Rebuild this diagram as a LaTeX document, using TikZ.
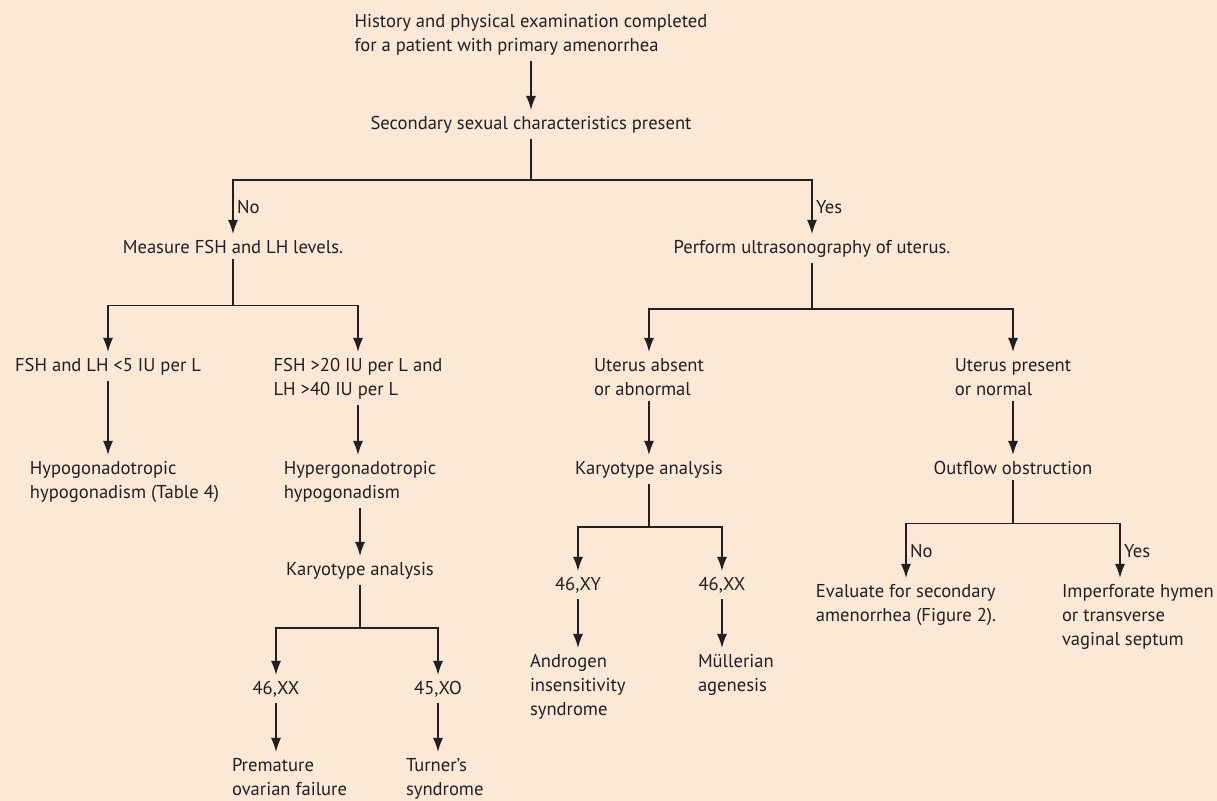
\documentclass[tikz,border=0pt]{standalone}
\usepackage{fontspec}
\setmainfont{PT Sans}
\usetikzlibrary{arrows.meta}
\definecolor{paper}{RGB}{251,232,214}
\definecolor{ink}{RGB}{35,31,32}
\tikzset{
	box/.style={anchor=north, inner sep=3pt, outer sep=0pt, align=left, text=ink, font=\fontsize{9.3}{12}\selectfont},
	leaf/.style={box, anchor=north west},
	tag/.style={box, anchor=west, inner sep=2pt},
	link/.style={draw=ink, line width=0.75pt},
	flow/.style={link, -{Latex[length=7pt,width=5pt]}}
}
\begin{document}
\begin{tikzpicture}[x=0.5pt, y=-0.5pt]

	\fill[paper] (0,0) rectangle (1217,801);
	\useasboundingbox (0,0) rectangle (1217,801);

	\node[box] (hist) at (531,8) {History and physical examination completed\\for a patient with primary amenorrhea};
	\node[box] (sec) at (531,110) {Secondary sexual characteristics present};

	\node[box] (meas) at (233,234) {Measure FSH and LH levels.};
	\node[box] (perf) at (812,234) {Perform ultrasonography of uterus.};

	\node[box] (fshlo) at (108,352) {FSH and LH <5 IU per L};
	\node[box] (fshhi) at (358,352) {FSH >20 IU per L and\\LH >40 IU per L};
	\node[box] (uabs) at (649,352) {Uterus absent\\or abnormal};
	\node[box] (upres) at (1013,352) {Uterus present\\or normal};

	\node[leaf] (hypo) at (24,455) {Hypogonadotropic\\hypogonadism (Table 4)};
	\node[box] (hyper) at (360,455) {Hypergonadotropic\\hypogonadism};
	\node[box] (karb) at (649,455) {Karyotype analysis};
	\node[box] (outf) at (1013,455) {Outflow obstruction};

	\node[box] (kara) at (360,556) {Karyotype analysis};
	\node[box] (xy) at (578,571) {46,XY};
	\node[box] (xxb) at (722,571) {46,XX};
	\node[box] (eval) at (906,578) {Evaluate for secondary\\amenorrhea (Figure 2).};
	\node[leaf] (imp) at (1056,578) {Imperforate hymen\\or transverse\\vaginal septum};

	\node[leaf] (andr) at (524,648) {Androgen\\insensitivity\\syndrome};
	\node[leaf] (mull) at (692,648) {Müllerian\\agenesis};
	\node[box] (xxa) at (276,675) {46,XX};
	\node[box] (xo) at (438,675) {45,XO};
	\node[leaf] (prem) at (226,752) {Premature\\ovarian failure};
	\node[leaf] (turn) at (400,752) {Turner’s\\syndrome};

	\draw[flow] (hist.south) -- (sec.north);
	\draw[link] (sec.south) -- ++(0,41) coordinate (secbar);
	\draw[flow] (secbar) -| node[tag, pos=0.75] {No} (meas.north);
	\draw[flow] (secbar) -| node[tag, pos=0.75] {Yes} (perf.north);

	\draw[link] (meas.south) -- ++(0,46) coordinate (measbar);
	\draw[flow] (measbar) -| (fshlo.north);
	\draw[flow] (measbar) -| (fshhi.north);
	\draw[link] (perf.south) -- ++(0,46) coordinate (perfbar);
	\draw[flow] (perfbar) -| (uabs.north);
	\draw[flow] (perfbar) -| (upres.north);

	\draw[flow] (fshlo.south) -- (fshlo.south |- hypo.north);
	\draw[flow] (fshhi.south) -- (fshhi.south |- hyper.north);
	\draw[flow] (hyper.south) -- (kara.north);
	\draw[link] (kara.south) -- ++(0,43) coordinate (karabar);
	\draw[flow] (karabar) -| (xxa.north);
	\draw[flow] (karabar) -| (xo.north);
	\draw[flow] (xxa.south) -- (xxa.south |- prem.north);
	\draw[flow] (xo.south) -- (xo.south |- turn.north);

	\draw[flow] (uabs.south) -- (karb.north);
	\draw[link] (karb.south) -- ++(0,43) coordinate (karbbar);
	\draw[flow] (karbbar) -| (xy.north);
	\draw[flow] (karbbar) -| (xxb.north);
	\draw[flow] (xy.south) -- (xy.south |- andr.north);
	\draw[flow] (xxb.south) -- (xxb.south |- mull.north);

	\draw[flow] (upres.south) -- (outf.north);
	\draw[link] (outf.south) -- ++(0,43) coordinate (outfbar);
	\draw[flow] (outfbar) -| node[tag, pos=0.75] {No} (eval.north);
	\draw[flow] (outfbar) -| node[tag, pos=0.75] {Yes} ([xshift=32pt]imp.north west);

\end{tikzpicture}
\end{document}
